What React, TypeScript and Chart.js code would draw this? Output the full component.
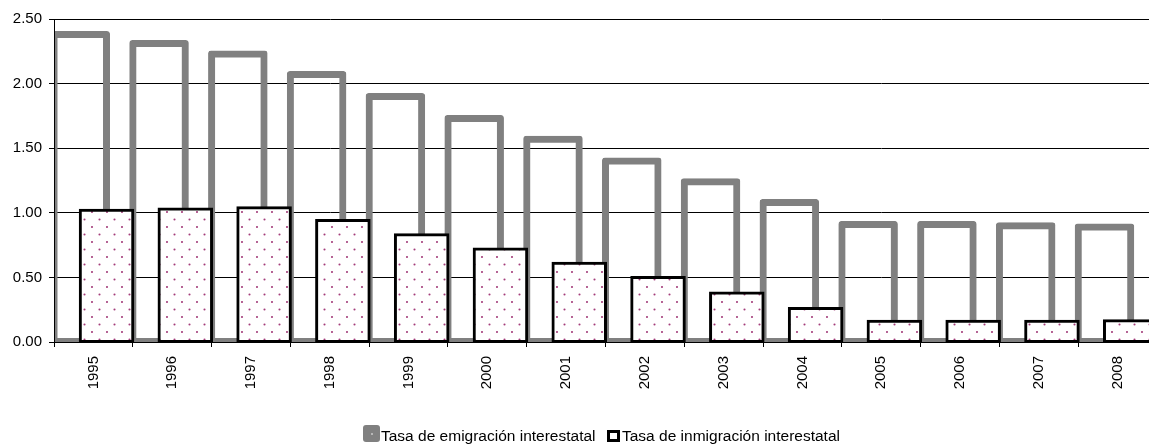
import React, { useEffect, useRef } from 'react';
import { Chart, registerables } from 'chart.js';

Chart.register(...registerables);

const years = ['1995', '1996', '1997', '1998', '1999', '2000', '2001', '2002', '2003', '2004', '2005', '2006', '2007', '2008'];
const emigracion = [2.38, 2.31, 2.23, 2.07, 1.9, 1.73, 1.57, 1.4, 1.24, 1.08, 0.91, 0.91, 0.9, 0.89];
const inmigracion = [1.02, 1.03, 1.04, 0.94, 0.83, 0.72, 0.61, 0.5, 0.38, 0.26, 0.16, 0.16, 0.16, 0.165];
const labelEmig = 'Tasa de emigración interestatal';
const labelInmig = 'Tasa de inmigración interestatal';

const FONT = '"Liberation Sans", Arial, Helvetica, sans-serif';
const GRAY = '#808080';
const GRAY_STROKE = 7;

function makeDots(): CanvasPattern | string {
  const c = document.createElement('canvas');
  c.width = 15;
  c.height = 15;
  const g = c.getContext('2d');
  if (!g) return '#fff';
  g.fillStyle = '#ffffff';
  g.fillRect(0, 0, 15, 15);
  g.fillStyle = '#a33c7a';
  g.beginPath();
  g.arc(2, 2, 1.05, 0, Math.PI * 2);
  g.fill();
  g.beginPath();
  g.arc(9.5, 9.5, 1.05, 0, Math.PI * 2);
  g.fill();
  return g.createPattern(c, 'repeat') || '#fff';
}

// Emulate a centred stroke for the thick grey outline (Excel style)
const centreStroke = {
  id: 'centreStroke',
  afterDatasetsUpdate(chart: any) {
    const meta = chart.getDatasetMeta(0);
    const hw = GRAY_STROKE / 2;
    meta.data.forEach((el: any) => {
      el.y -= hw;
      el.base += hw;
      el.width += GRAY_STROKE;
    });
  },
};

// Draw the patterned series above the grey outline series
const frontSeries = {
  id: 'frontSeries',
  beforeDatasetDraw(_chart: any, args: any) {
    if (args.index === 1) return false;
    return true;
  },
  afterDatasetsDraw(chart: any) {
    const meta = chart.getDatasetMeta(1);
    const a = chart.chartArea;
    const ctx = chart.ctx;
    ctx.save();
    ctx.beginPath();
    ctx.rect(a.left + 1, a.top, a.right - a.left - 1, a.bottom - a.top);
    ctx.clip();
    meta.data.forEach((el: any) => el.draw(ctx));
    ctx.restore();
  },
};

export default function App() {
  const ref = useRef<HTMLCanvasElement | null>(null);

  useEffect(() => {
    if (!ref.current) return;
    const dots = makeDots();
    const chart = new Chart(ref.current, {
      type: 'bar',
      data: {
        labels: years,
        datasets: [
          {
            label: labelEmig,
            data: emigracion,
            backgroundColor: 'rgba(0,0,0,0)',
            borderColor: GRAY,
            borderWidth: GRAY_STROKE,
            borderSkipped: false,
            borderRadius: 3,
            inflateAmount: 0,
            barPercentage: 2,
            categoryPercentage: 2 / 3,
            clip: { left: -1, top: 0, right: 0, bottom: 0 },
          } as any,
          {
            label: labelInmig,
            data: inmigracion,
            backgroundColor: dots as any,
            borderColor: '#000000',
            borderWidth: 3,
            borderSkipped: false,
            inflateAmount: 1.5,
            barPercentage: 2,
            categoryPercentage: 2 / 3,
          } as any,
        ],
      },
      options: {
        responsive: false,
        animation: false,
        devicePixelRatio: 1,
        layout: { padding: { top: 19, left: 0, right: 0, bottom: 0 } },
        plugins: {
          legend: { display: false },
          tooltip: { enabled: false },
        },
        scales: {
          x: {
            type: 'category',
            offset: true,
            grid: {
              display: true,
              drawOnChartArea: false,
              drawTicks: true,
              tickLength: 5,
              color: '#000',
              offset: true,
            },
            border: { display: true, color: '#000', width: 1 },
            ticks: {
              autoSkip: false,
              minRotation: 90,
              maxRotation: 90,
              padding: 9,
              color: '#000',
              font: { family: FONT, size: 15 },
            },
            afterFit: (s: any) => {
              s.height = 102;
            },
          },
          y: {
            min: 0,
            max: 2.5,
            ticks: {
              stepSize: 0.5,
              padding: 7,
              color: '#000',
              font: { family: FONT, size: 15 },
              callback: (v: any) => Number(v).toFixed(2),
            },
            grid: { color: '#000', lineWidth: 1, drawTicks: true, tickLength: 5 },
            border: { display: true, color: '#000', width: 1 },
            afterFit: (s: any) => {
              s.width = 54;
            },
          },
        },
      } as any,
      plugins: [centreStroke, frontSeries],
    });
    return () => chart.destroy();
  }, []);

  const textStyle: React.CSSProperties = {
    position: 'absolute',
    top: 427,
    font: `15.5px ${FONT}`,
    lineHeight: '18px',
    color: '#000',
    whiteSpace: 'nowrap',
  };

  return (
    <div
      style={{
        position: 'fixed',
        left: 0,
        top: 0,
        width: 1149,
        height: 444,
        overflow: 'hidden',
        background: '#fff',
      }}
    >
      <canvas ref={ref} width={1157} height={444} style={{ display: 'block' }} />
      <div
        style={{
          position: 'absolute',
          left: 363,
          top: 425,
          width: 17,
          height: 17,
          borderRadius: 3,
          background: GRAY,
        }}
      >
        <div
          style={{
            position: 'absolute',
            left: 7.5,
            top: 7.5,
            width: 2,
            height: 2,
            background: '#b8b8b8',
          }}
        />
      </div>
      <span style={{ ...textStyle, left: 381 }}>{labelEmig}</span>
      <div
        style={{
          position: 'absolute',
          left: 607,
          top: 430,
          width: 13,
          height: 12,
          boxSizing: 'border-box',
          border: '3px solid #000',
          background: '#fff',
        }}
      />
      <span style={{ ...textStyle, left: 622 }}>{labelInmig}</span>
    </div>
  );
}
